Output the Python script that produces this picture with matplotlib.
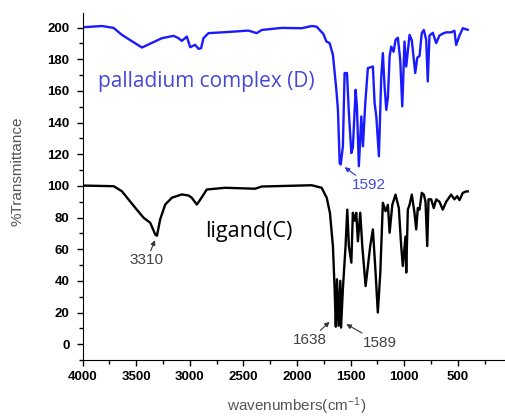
import matplotlib
matplotlib.use('Agg')
import matplotlib.pyplot as pl
from matplotlib.ticker import MultipleLocator

pl.rcParams['font.family'] = 'Liberation Sans'
pl.rcParams['mathtext.default'] = 'regular'

# palladium complex (D), offset by +100
wn_d = [4000, 4000, 3820, 3711, 3634, 3447, 3261, 3152, 3106, 3075, 3028, 2997, 2951, 2919, 2895,
        2873, 2826, 2671, 2453, 2376, 2329, 2143, 1957, 1863, 1817, 1789, 1754, 1726, 1696, 1665,
        1633, 1618, 1602, 1592, 1572, 1556, 1534, 1516, 1493, 1479, 1453, 1441, 1423, 1400, 1385,
        1363, 1339, 1292, 1276, 1260, 1236, 1214, 1199, 1183, 1167, 1152, 1136, 1121, 1099, 1081,
        1059, 1037, 1018, 997, 981, 950, 929, 897, 878, 857, 836, 817, 795, 780, 764, 733, 701,
        671, 640, 608, 562, 531, 515, 484, 453, 407]
tr_d = [100, 200.2, 201, 199.8, 195.4, 187.4, 193.3, 194.8, 193.3, 191.6, 194.3, 187.6, 189.1, 186.6, 187,
        193.3, 196.5, 197.1, 198.1, 196.5, 198.5, 199.8, 199.6, 201, 200.6, 198.5, 196, 191.2, 190.2, 182.8,
        160.7, 148, 114.5, 113.5, 125, 171.3, 171.3, 146, 120.8, 124, 160.7, 150, 112.4, 143.9, 125,
        152.3, 174.4, 175.4, 152.3, 143.9, 118.7, 169, 183.9, 162.8, 148, 156, 181.7, 188, 184.7, 192.2,
        193.6, 179.6, 150.2, 191.2, 175.4, 195.4, 192, 171.3, 181, 182, 196.5, 198.5, 192.5, 166, 195, 196.7, 190.2,
        195, 196.2, 197, 197, 198, 189, 195, 199.6, 198.6]

# ligand (C)
wn_c = [4000, 3711, 3634, 3510, 3432, 3370, 3323, 3307, 3277, 3230, 3168, 3075, 3012, 2982, 2935,
        2904, 2842, 2671, 2392, 2329, 1863, 1770, 1723, 1693, 1665, 1649, 1638, 1627, 1612, 1596,
        1589, 1572, 1547, 1531, 1516, 1493, 1479, 1463, 1447, 1432, 1410, 1391, 1360, 1339, 1317,
        1292, 1267, 1246, 1223, 1199, 1174, 1152, 1136, 1111, 1081, 1050, 1028, 1013, 988, 981, 966,
        950, 929, 904, 888, 873, 857, 836, 817, 801, 785, 773, 748, 724, 701, 671, 640, 608, 562,
        531, 506, 484, 453, 422, 407]
tr_c = [100.2, 99.8, 96.6, 86.2, 79.9, 76.7, 69.3, 68.5, 78.8, 88.2, 92.5, 94.6, 93.9, 92.5, 88.2,
        91.2, 97.7, 98.8, 98.2, 99.6, 100.4, 98.8, 92.5, 83, 62, 34.7, 11, 41, 11.6, 40,
        10.5, 35, 62, 85, 62, 51.5, 83, 78, 83, 65, 83, 62, 36.7, 49, 62,
        72.5, 45.2, 20, 45, 89.3, 84, 88, 70.4, 88, 94.5, 86, 62, 49.4, 68, 45.2, 85,
        88, 94.5, 83, 72.5, 86, 85, 95.6, 94.5, 90, 62, 91.5, 91.5, 86, 91.5, 90, 85, 90, 94.5,
        91.5, 93.5, 91, 95.6, 96.5, 96.5]

fig = pl.figure(figsize=(5.06, 4.17), dpi=100)
ax = fig.add_axes([0.1634, 0.1367, 0.8366, 0.8313])

ax.plot(wn_c, tr_c, color='black', lw=1.7)
ax.plot(wn_d, tr_d, color='#1a1aff', lw=1.7)

ax.set_xlim(4000, 50)
ax.set_ylim(-10, 209)
ax.xaxis.set_major_locator(MultipleLocator(500))
ax.xaxis.set_minor_locator(MultipleLocator(250))
ax.yaxis.set_major_locator(MultipleLocator(20))
ax.yaxis.set_minor_locator(MultipleLocator(10))
ax.spines['top'].set_visible(False)
ax.spines['right'].set_visible(False)
ax.tick_params(which='major', length=4.5, width=1, direction='out')
ax.tick_params(which='minor', length=2.7, width=1, direction='out')
ax.tick_params(axis='y', pad=5)
ax.tick_params(axis='x', pad=3.5)
for lab in ax.get_xticklabels() + ax.get_yticklabels():
    lab.set_fontweight('bold')
    lab.set_fontsize(9.5)

ax.set_ylabel('%Transmittance', fontsize=11, color='#555555', va='center')
ax.yaxis.set_label_coords(-0.153, 0.545)
ax.set_xlabel('wavenumbers(cm$^{-1}$)', fontsize=11, color='#555555', va='center')
ax.xaxis.set_label_coords(0.506, -0.133)

ax.text(3857, 165.8, 'palladium complex (D)', family='Open Sans', fontsize=15,
        color='#4848d8', va='center', ha='left')
ax.text(2860, 71.2, 'ligand(C)', family='Open Sans', fontsize=15.5,
        color='black', va='center', ha='left')

arrow = dict(arrowstyle='-|>', color='#333333', lw=0.8, mutation_scale=7, shrinkA=0, shrinkB=0)
ax.annotate('3310', xy=(3326, 65.7), xytext=(3401, 52.9), fontsize=11, color='#404040',
            ha='center', va='center', arrowprops=arrow)
ax.annotate('1638', xy=(1696, 14.1), xytext=(1882, 2.5), fontsize=11, color='#404040',
            ha='center', va='center', arrowprops=arrow)
ax.annotate('1589', xy=(1540, 12.6), xytext=(1230, 0.9), fontsize=11, color='#404040',
            ha='center', va='center', arrowprops=arrow)
ax.annotate('1592', xy=(1556, 111.8), xytext=(1328, 100.5), fontsize=11, color='#4848d8',
            ha='center', va='center', arrowprops=dict(arrow, color='#3030d0'))

fig.savefig('out.png', dpi=100)
